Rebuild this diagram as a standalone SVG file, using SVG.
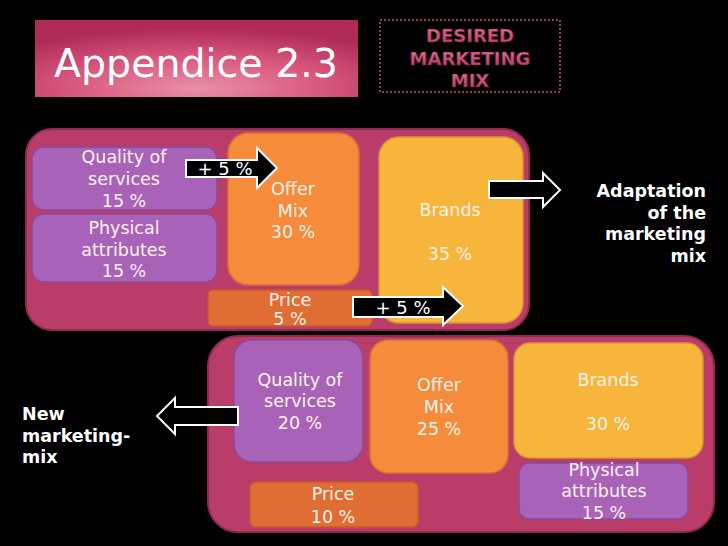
<svg xmlns="http://www.w3.org/2000/svg" width="728" height="546" viewBox="0 0 728 546">
<defs>
<radialGradient id="tg" cx="0.5" cy="0.85" r="0.75" fx="0.5" fy="0.9">
<stop offset="0" stop-color="#e890a8"/>
<stop offset="0.5" stop-color="#d95a80"/>
<stop offset="1" stop-color="#b02a58"/>
</radialGradient>
<linearGradient id="pg" x1="0" y1="0" x2="0" y2="1">
<stop offset="0" stop-color="#e07898"/>
<stop offset="1" stop-color="#b03563"/>
</linearGradient>
<style>
text{font-family:"DejaVu Sans","Liberation Sans",sans-serif;}
.c{fill:#b93c69;stroke:#8e2a52;stroke-width:2;}
.pu{fill:#a863b9;stroke:#8a4a9b;stroke-width:1.5;}
.or{fill:#f68b3b;stroke:#d87030;stroke-width:1.5;}
.ye{fill:#f8b53b;stroke:#dc9433;stroke-width:1.5;}
.pr{fill:#e06d33;stroke:#c85a28;stroke-width:1.5;}
.t{fill:#fbf3ea;font-size:17.5px;text-anchor:middle;}
.b{fill:#ffffff;font-size:17.5px;font-weight:bold;}
.ar{fill:#000;stroke:#fff;stroke-width:2;stroke-linejoin:miter;}
.at{fill:#fff;font-size:18px;text-anchor:middle;}
.d{fill:url(#pg);stroke:#7a1e40;stroke-width:0.6;font-size:18px;font-weight:bold;text-anchor:middle;}
</style>
</defs>
<rect width="728" height="546" fill="#000"/>
<g id="title">
<rect x="35" y="20" width="323" height="77" fill="url(#tg)"/>
<text x="54" y="77" font-size="39.5" fill="#fff">Appendice 2.3</text>
</g>
<g id="desired">
<rect x="380" y="20" width="180" height="72" fill="none" stroke="#c85078" stroke-width="1.5" stroke-dasharray="2 2"/>
<text class="d" x="470" y="42">DESIRED</text>
<text class="d" x="470" y="65">MARKETING</text>
<text class="d" x="470" y="87">MIX</text>
</g>
<g id="top-mix">
<rect class="c" x="26" y="129" width="503" height="201" rx="26"/>
</g>
<g id="top-quality">
<rect class="pu" x="32" y="147" width="185" height="63" rx="12"/>
<text class="t" x="124" y="163">Quality of</text>
<text class="t" x="124" y="185">services</text>
<text class="t" x="124" y="207">15 %</text>
</g>
<g id="top-physical">
<rect class="pu" x="32" y="214" width="185" height="68" rx="12"/>
<text class="t" x="124" y="234">Physical</text>
<text class="t" x="124" y="256">attributes</text>
<text class="t" x="124" y="277">15 %</text>
</g>
<g id="top-offer">
<rect class="or" x="228" y="133" width="131" height="152" rx="20"/>
<text class="t" x="293" y="195">Offer</text>
<text class="t" x="293" y="217">Mix</text>
<text class="t" x="293" y="238">30 %</text>
</g>
<g id="top-brands">
<rect class="ye" x="379" y="137" width="144" height="186" rx="20"/>
<text class="t" x="450" y="216">Brands</text>
<text class="t" x="450" y="260">35 %</text>
</g>
<g id="top-price">
<rect class="pr" x="208" y="290" width="164" height="36" rx="5"/>
<text class="t" x="290" y="306">Price</text>
<text class="t" x="290" y="325">5 %</text>
</g>
<g id="bottom-mix">
<rect class="c" x="208" y="336" width="506" height="196" rx="30"/>
</g>
<g id="bottom-quality">
<rect class="pu" x="234" y="340" width="129" height="122" rx="18"/>
<text class="t" x="300" y="386">Quality of</text>
<text class="t" x="300" y="407">services</text>
<text class="t" x="300" y="429">20 %</text>
</g>
<g id="bottom-offer">
<rect class="or" x="370" y="340" width="138" height="133" rx="18"/>
<text class="t" x="439" y="391">Offer</text>
<text class="t" x="439" y="413">Mix</text>
<text class="t" x="439" y="435">25 %</text>
</g>
<g id="bottom-brands">
<rect class="ye" x="514" y="343" width="189" height="115" rx="16"/>
<text class="t" x="608" y="386">Brands</text>
<text class="t" x="608" y="430">30 %</text>
</g>
<g id="bottom-physical">
<rect class="pu" x="519" y="463" width="169" height="56" rx="10"/>
<text class="t" x="604" y="476">Physical</text>
<text class="t" x="604" y="497">attributes</text>
<text class="t" x="604" y="519">15 %</text>
</g>
<g id="bottom-price">
<rect class="pr" x="250" y="482" width="168" height="45" rx="6"/>
<text class="t" x="333" y="500">Price</text>
<text class="t" x="333" y="523">10 %</text>
</g>
<g id="connectors">
<path class="ar" d="M186,160 H257 V148 L277,168 L257,188 V177 H186 Z"/>
<text class="at" x="225" y="175">+ 5 %</text>
<path class="ar" d="M353,297 H443 V287 L463,306 L443,325 V317 H353 Z"/>
<text class="at" x="403" y="314">+ 5 %</text>
<path class="ar" d="M489,181 H543 V173 L560,190 L543,207 V198 H489 Z"/>
<path class="ar" d="M238,407 H175 V398 L157,416 L175,434 V425 H238 Z"/>
</g>
<g id="adaptation">
<text class="b" x="706" y="197" text-anchor="end">Adaptation</text>
<text class="b" x="706" y="219" text-anchor="end">of the</text>
<text class="b" x="706" y="240" text-anchor="end">marketing</text>
<text class="b" x="706" y="262" text-anchor="end">mix</text>
</g>
<g id="new-mix">
<text class="b" x="22" y="420">New</text>
<text class="b" x="22" y="442">marketing-</text>
<text class="b" x="22" y="463">mix</text>
</g>
</svg>
